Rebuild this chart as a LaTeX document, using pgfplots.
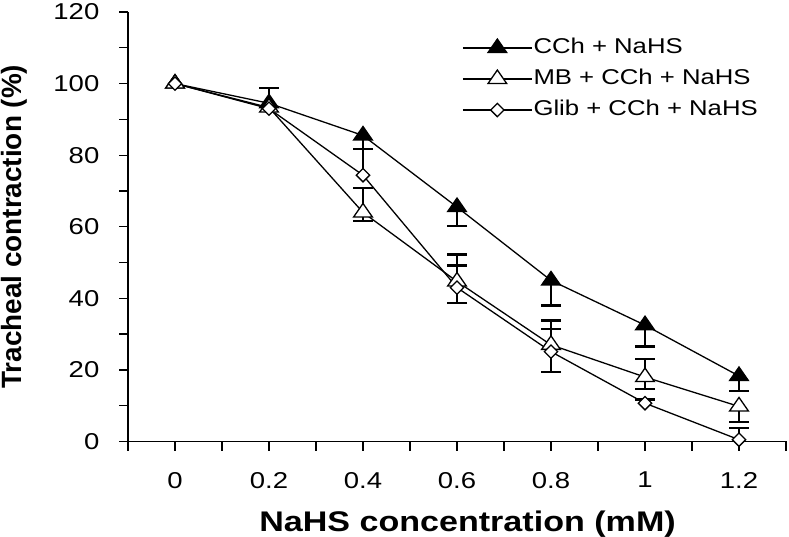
\documentclass[border=0pt]{standalone}
\usepackage{fontspec}
\setmainfont{Liberation Sans}
\newfontfamily\wide[FakeStretch=1.2]{Liberation Sans}
\usepackage{pgfplots}
\pgfplotsset{compat=1.18}
\begin{document}
\begin{tikzpicture}
\begin{axis}[
  at={(128bp,95.5bp)}, anchor=south west,
  scale only axis, width=658bp, height=429.5bp,
  xmin=-0.1, xmax=1.3, ymin=0, ymax=120,
  clip=false,
  axis x line=bottom, axis y line=left,
  axis line style={-, line width=1.3bp, black},
  xtick={0,0.2,0.4,0.6,0.8,1,1.2},
  xticklabels={0,0.2,0.4,0.6,0.8,1,1.2},
  minor xtick={-0.1,0.1,0.3,0.5,0.7,0.9,1.1,1.3},
  ytick={0,20,40,60,80,100,120},
  minor ytick={10,30,50,70,90,110},
  tick align=outside,
  major tick length=9bp, minor tick length=9bp,
  tick style={black, line width=1.3bp},
  /pgf/number format/assume math mode=true,
  tick label style={font=\wide\fontsize{23}{26}\selectfont},
  xticklabel style={inner ysep=21.5bp},
  yticklabel style={inner xsep=19.5bp},
  xlabel={NaHS concentration (mM)},
  xlabel style={font=\wide\bfseries\fontsize{28.5}{30}\selectfont, at={(axis description cs:0.516,-0.2107)}, anchor=base},
  ylabel={Tracheal contraction (\%)},
  ylabel style={font=\bfseries\fontsize{28}{30}\selectfont, at={(axis description cs:-0.1626,0.5)}, anchor=base, rotate=0},
  legend style={draw=none, fill=none, font=\wide\fontsize{21.5}{25}\selectfont,
    at={(axis description cs:0.5076,0.941)}, anchor=north west, inner sep=0pt,
    row sep=10bp, nodes={inner sep=1bp, text height=15bp, text depth=4bp},
    /tikz/every even column/.append style={column sep=4bp}},
  legend cell align=left,
  legend image code/.code={\draw[mark repeat=2, mark phase=2, #1] plot coordinates {(0bp,0bp) (34.5bp,0bp) (69bp,0bp)};},
  error bars/error bar style={draw=black, solid, line width=2.6bp},
  error bars/error mark options={draw=black, solid, line width=2.4bp, mark size=10bp, rotate=90},
  every axis plot/.append style={line width=1.3bp, black},
]
% ---- error bars (up) ----
\addplot[forget plot, only marks, mark=none, error bars/.cd, y dir=plus, y explicit] coordinates {
  (0.2,94.5) +- (0,4.3)
  (0.4,64) +- (0,6.8) (0.6,44.7) +- (0,7.5) (0.8,27) +- (0,6.8) (1,18) +- (0,5)
  (0.4,74.4) +- (0,7.3) (0.6,43) +- (0,6.2) (0.8,25.1) +- (0,6.4) (1,10.7) +- (0,1) (1.2,0.5) +- (0,3.3)
};
% ---- error bars (down) ----
\addplot[forget plot, only marks, mark=none, error bars/.cd, y dir=minus, y explicit] coordinates {
  (0.4,85.5) +- (0,3.8) (0.6,65.5) +- (0,5.3) (0.8,45) +- (0,7) (1,32.5) +- (0,6) (1.2,18.3) +- (0,4.2)
  (0.4,64) +- (0,2.4) (1,18) +- (0,3.3) (1.2,9.8) +- (0,4.4)
  (0.6,43) +- (0,4.3) (0.8,25.1) +- (0,5.6)
};
% ---- series ----
\addplot[mark=triangle*, mark size=9bp, mark options={xscale=1.2, fill=black, solid}] coordinates {
  (0,100) (0.2,94.5) (0.4,85.5) (0.6,65.5) (0.8,45) (1,32.5) (1.2,18.3)
};
\addlegendentry{CCh + NaHS}
\addplot[mark=triangle*, mark size=9bp, mark options={xscale=1.2, fill=white, solid}] coordinates {
  (0,100) (0.2,93.3) (0.4,64) (0.6,44.7) (0.8,27) (1,18) (1.2,9.8)
};
\addlegendentry{MB + CCh + NaHS}
\addplot[mark=square*, mark size=4.7bp, mark options={rotate=45, fill=white, solid}] coordinates {
  (0,100) (0.2,93) (0.4,74.4) (0.6,43) (0.8,25.1) (1,10.7) (1.2,0.5)
};
\addlegendentry{Glib + CCh + NaHS}
\end{axis}
\pgfresetboundingbox
\path (0,0) rectangle (789bp,537bp);
\end{tikzpicture}
\end{document}
